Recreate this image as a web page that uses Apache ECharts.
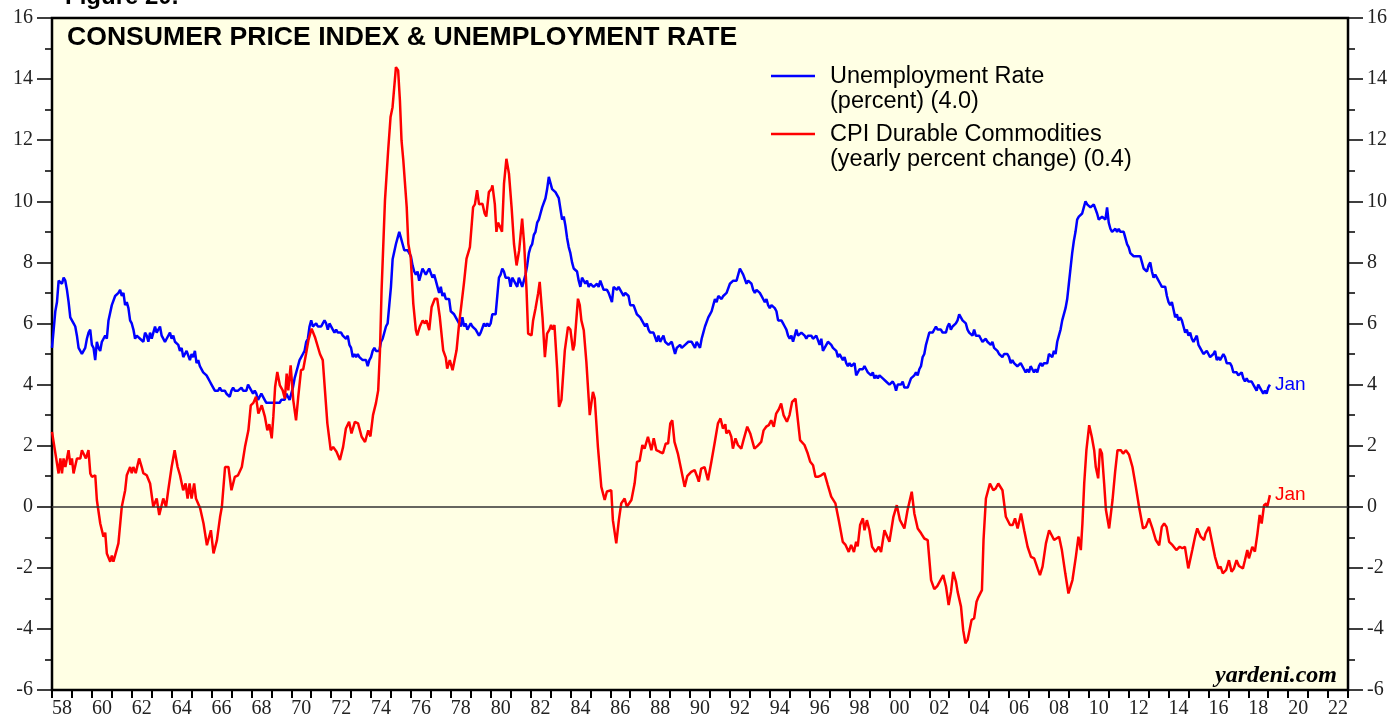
<!DOCTYPE html>
<html>
<head>
<meta charset="utf-8">
<script src="https://cdn.jsdelivr.net/npm/echarts@6/dist/echarts.min.js"></script>
<style>
html,body{margin:0;padding:0;background:#ffffff;}
#chart{width:1394px;height:719px;}
</style>
</head>
<body>
<div id="chart"></div>
<script>
// Unemployment rate, monthly, first value = Dec 1957, each value plotted at end of its month
const unemploymentStart = 1958.0;
const unemployment = [
  5.2,
  5.8,6.4,6.7,7.4,7.4,7.3,7.5,7.4,7.1,6.7,6.2,6.2,
  6.0,5.9,5.6,5.2,5.1,5.0,5.1,5.2,5.5,5.7,5.8,5.3,
  5.2,4.8,5.4,5.2,5.1,5.4,5.5,5.6,5.5,6.1,6.1,6.6,
  6.6,6.9,6.9,7.0,7.1,6.9,7.0,6.6,6.7,6.5,6.1,6.0,
  5.8,5.5,5.6,5.6,5.5,5.5,5.4,5.7,5.6,5.4,5.7,5.5,
  5.7,5.9,5.7,5.7,5.9,5.6,5.6,5.4,5.5,5.5,5.7,5.5,
  5.6,5.4,5.4,5.3,5.1,5.2,4.9,5.0,5.1,5.1,4.8,5.0,
  4.9,5.1,4.7,4.8,4.6,4.6,4.4,4.4,4.3,4.2,4.1,4.0,
  4.0,3.8,3.8,3.8,3.9,3.8,3.8,3.8,3.7,3.7,3.6,3.8,
  3.9,3.8,3.8,3.8,3.8,3.9,3.8,3.8,3.8,4.0,3.9,3.8,
  3.7,3.8,3.7,3.5,3.5,3.7,3.7,3.5,3.4,3.4,3.4,3.4,
  3.4,3.4,3.4,3.4,3.4,3.5,3.5,3.5,3.7,3.7,3.5,3.5,
  3.9,4.2,4.4,4.6,4.8,4.9,5.0,5.1,5.4,5.5,5.9,6.1,
  5.9,5.9,6.0,5.9,5.9,5.9,6.0,6.1,6.0,5.8,6.0,6.0,
  5.8,5.7,5.8,5.7,5.7,5.7,5.6,5.6,5.5,5.6,5.3,5.2,
  4.9,5.0,4.9,5.0,4.9,4.9,4.8,4.8,4.8,4.6,4.8,4.9,
  5.1,5.2,5.1,5.1,5.1,5.4,5.5,5.5,5.9,6.0,6.6,7.2,
  8.1,8.1,8.6,8.8,9.0,8.8,8.6,8.4,8.4,8.4,8.3,8.2,
  7.9,7.7,7.6,7.7,7.4,7.6,7.8,7.8,7.6,7.7,7.8,7.8,
  7.5,7.6,7.4,7.2,7.0,7.2,6.9,7.0,6.8,6.8,6.8,6.4,
  6.4,6.3,6.3,6.1,6.0,5.9,6.2,5.9,6.0,5.8,5.9,6.0,
  5.9,5.9,5.8,5.8,5.6,5.7,5.7,6.0,5.9,6.0,5.9,6.0,
  6.3,6.3,6.3,6.9,7.5,7.6,7.8,7.7,7.5,7.5,7.5,7.2,
  7.5,7.4,7.4,7.2,7.5,7.5,7.2,7.4,7.6,7.9,8.3,8.5,
  8.6,8.9,9.0,9.3,9.4,9.6,9.8,9.8,10.1,10.4,10.8,10.8,
  10.4,10.4,10.3,10.2,10.1,10.1,9.4,9.5,9.2,8.8,8.5,8.3,
  8.0,7.8,7.8,7.7,7.4,7.2,7.5,7.5,7.3,7.4,7.2,7.3,
  7.3,7.2,7.2,7.3,7.2,7.4,7.4,7.1,7.1,7.1,7.0,7.0,
  6.7,7.2,7.2,7.1,7.2,7.2,7.0,6.9,7.0,7.0,6.9,6.6,
  6.6,6.6,6.6,6.3,6.3,6.2,6.1,6.0,5.9,6.0,5.8,5.7,
  5.7,5.7,5.7,5.4,5.6,5.4,5.4,5.6,5.4,5.4,5.3,5.3,
  5.4,5.2,5.0,5.2,5.2,5.3,5.2,5.2,5.3,5.3,5.4,5.4,
  5.4,5.3,5.2,5.4,5.4,5.2,5.5,5.7,5.9,5.9,6.2,6.3,
  6.4,6.6,6.8,6.7,6.9,6.9,6.8,6.9,6.9,7.0,7.0,7.3,
  7.3,7.4,7.4,7.4,7.6,7.8,7.7,7.6,7.6,7.3,7.4,7.4,
  7.3,7.1,7.0,7.1,7.1,7.0,6.9,6.8,6.7,6.8,6.6,6.5,
  6.6,6.6,6.5,6.4,6.1,6.1,6.1,6.0,5.9,5.8,5.6,5.5,
  5.6,5.4,5.4,5.8,5.6,5.6,5.7,5.7,5.6,5.5,5.6,5.6,
  5.6,5.5,5.5,5.6,5.6,5.3,5.5,5.1,5.2,5.2,5.4,5.4,
  5.3,5.2,5.2,5.1,4.9,5.0,4.9,4.8,4.9,4.7,4.6,4.7,
  4.6,4.6,4.7,4.3,4.4,4.5,4.5,4.5,4.6,4.5,4.4,4.4,
  4.3,4.4,4.2,4.3,4.2,4.3,4.3,4.2,4.2,4.1,4.1,4.0,
  4.0,4.1,4.0,3.8,4.0,4.0,4.0,4.1,3.9,3.9,3.9,3.9,
  4.2,4.2,4.3,4.4,4.3,4.5,4.6,4.9,5.0,5.3,5.5,5.7,
  5.7,5.7,5.7,5.9,5.8,5.8,5.8,5.7,5.7,5.7,5.9,6.0,
  5.8,5.9,5.9,6.0,6.1,6.3,6.2,6.1,6.1,6.0,5.8,5.7,
  5.7,5.6,5.8,5.6,5.6,5.6,5.5,5.4,5.4,5.5,5.4,5.4,
  5.3,5.4,5.2,5.2,5.1,5.0,5.0,4.9,5.0,5.0,5.0,4.9,
  4.7,4.8,4.7,4.7,4.6,4.6,4.7,4.7,4.5,4.4,4.5,4.4,
  4.6,4.5,4.4,4.5,4.4,4.6,4.7,4.6,4.7,4.7,4.7,5.0,
  5.0,4.9,5.1,5.0,5.4,5.6,5.8,6.1,6.1,6.5,6.8,7.3,
  7.8,8.3,8.7,9.0,9.4,9.5,9.5,9.6,9.8,10.0,9.9,9.9,
  9.8,9.8,9.9,9.9,9.6,9.4,9.4,9.5,9.5,9.4,9.8,9.3,
  9.1,9.0,9.0,9.1,9.0,9.1,9.0,9.0,9.0,8.8,8.6,8.5,
  8.3,8.3,8.2,8.2,8.2,8.2,8.2,8.0,7.8,7.8,7.7,7.9,
  8.0,7.7,7.5,7.6,7.5,7.5,7.3,7.2,7.2,7.2,6.9,6.7,
  6.6,6.7,6.7,6.2,6.3,6.1,6.2,6.1,5.9,5.7,5.8,5.6,
  5.7,5.5,5.4,5.4,5.6,5.3,5.2,5.1,5.0,5.0,5.1,5.0,
  4.9,4.9,5.0,5.1,4.8,4.9,4.8,4.9,5.0,4.9,4.7,4.7,
  4.7,4.6,4.4,4.4,4.4,4.3,4.3,4.4,4.2,4.1,4.2,4.1,
  4.1,4.1,4.0,4.0,3.8,4.0,3.9,3.8,3.7,3.8,3.7,3.9,
  4.0
];

// CPI durable commodities, yearly percent change
const cpiDates = [
  1958.0,1958.33,1958.42,1958.5,1958.58,1958.67,1958.83,1958.92,1959.0,1959.08,1959.17,1959.25,1959.42,1959.5,1959.6,1959.7,1959.83,1959.92,
  1960.0,1960.17,1960.25,1960.42,1960.58,1960.67,1960.75,1960.92,1961.0,1961.08,1961.33,1961.5,1961.67,1961.75,1961.92,
  1962.0,1962.08,1962.2,1962.37,1962.5,1962.58,1962.75,1962.92,1963.08,1963.25,1963.38,1963.58,1963.72,1963.83,
  1964.0,1964.15,1964.3,1964.42,1964.58,1964.7,1964.8,1964.9,1965.0,1965.13,1965.22,1965.43,1965.6,1965.77,1965.97,
  1966.1,1966.27,1966.43,1966.52,1966.68,1966.85,1967.0,1967.17,1967.33,1967.52,1967.68,1967.85,1967.97,
  1968.1,1968.23,1968.35,1968.52,1968.68,1968.8,1968.9,1969.02,1969.1,1969.19,1969.3,1969.43,1969.57,1969.68,1969.77,1969.85,1969.97,
  1970.1,1970.24,1970.35,1970.49,1970.6,1970.74,1970.86,1971.02,1971.19,1971.44,1971.58,1971.69,1971.81,1971.98,
  1972.1,1972.27,1972.44,1972.6,1972.74,1972.9,1973.02,1973.19,1973.35,1973.53,1973.7,1973.86,1973.97,
  1974.1,1974.25,1974.36,1974.45,1974.53,1974.7,1974.86,1974.98,1975.08,1975.25,1975.36,1975.45,1975.53,1975.62,1975.79,1975.87,1975.99,
  1976.12,1976.25,1976.32,1976.45,1976.59,1976.7,1976.78,1976.92,1977.04,1977.2,1977.32,1977.45,1977.62,1977.75,1977.82,1977.95,
  1978.09,1978.29,1978.42,1978.54,1978.66,1978.79,1978.96,1979.12,1979.21,1979.32,1979.42,1979.59,1979.7,1979.78,1979.91,
  1980.04,1980.09,1980.21,1980.29,1980.37,1980.45,1980.57,1980.67,1980.79,1980.92,1981.05,1981.17,1981.3,1981.43,1981.58,1981.68,1981.8,1981.88,
  1982.05,1982.13,1982.25,1982.38,1982.46,1982.6,1982.72,1982.83,1982.95,1983.03,1983.11,1983.2,1983.34,1983.43,1983.55,1983.72,1983.88,
  1984.0,1984.13,1984.2,1984.38,1984.47,1984.55,1984.67,1984.8,1984.97,1985.05,1985.13,1985.22,1985.38,1985.55,1985.72,1985.83,
  1986.05,1986.13,1986.3,1986.43,1986.55,1986.72,1986.83,1987.06,1987.22,1987.34,1987.47,1987.61,1987.72,1987.89,
  1988.06,1988.18,1988.31,1988.47,1988.64,1988.78,1988.9,1989.01,1989.11,1989.22,1989.39,1989.56,1989.73,1989.86,
  1990.06,1990.23,1990.35,1990.44,1990.56,1990.73,1990.9,1991.07,1991.23,1991.4,1991.53,1991.65,1991.77,1991.82,1991.95,
  1992.07,1992.15,1992.28,1992.4,1992.57,1992.68,1992.87,1993.02,1993.23,1993.4,1993.57,1993.69,1993.82,1993.95,
  1994.07,1994.2,1994.32,1994.46,1994.57,1994.69,1994.86,1994.99,1995.12,1995.29,1995.41,1995.52,1995.74,1995.9,
  1996.03,1996.17,1996.29,1996.41,1996.58,1996.74,1996.91,1997.08,1997.29,1997.46,1997.66,1997.8,1997.96,
  1998.08,1998.22,1998.33,1998.41,1998.53,1998.67,1998.75,1998.87,1999.0,1999.13,1999.3,1999.47,1999.58,1999.75,1999.83,
  2000.0,2000.2,2000.37,2000.53,2000.75,2000.91,2001.12,2001.25,2001.42,2001.59,2001.75,2001.92,
  2002.09,2002.25,2002.4,2002.5,2002.7,2002.84,2002.97,2003.09,2003.2,2003.34,2003.42,2003.59,2003.7,2003.81,2003.92,
  2004.12,2004.25,2004.37,2004.47,2004.64,2004.72,2004.84,2005.04,2005.21,2005.33,2005.46,2005.67,2005.84,
  2006.05,2006.18,2006.3,2006.43,2006.6,2006.76,2006.93,2007.1,2007.26,2007.43,2007.55,2007.68,2007.85,
  2008.01,2008.26,2008.51,2008.65,2008.82,2008.98,2009.18,2009.35,2009.48,2009.6,2009.68,2009.77,2009.88,
  2010.02,2010.15,2010.27,2010.35,2010.47,2010.56,2010.66,2010.77,2010.86,2011.02,2011.19,2011.32,2011.44,2011.61,2011.72,2011.86,
  2012.02,2012.19,2012.36,2012.52,2012.72,2012.86,2013.02,2013.19,2013.36,2013.53,2013.66,2013.78,2013.9,
  2014.03,2014.2,2014.39,2014.56,2014.69,2014.82,2014.99,2015.06,2015.19,2015.33,2015.44,2015.61,2015.69,2015.78,2015.86,
  2016.03,2016.16,2016.33,2016.5,2016.61,2016.72,2016.82,2016.89,2017.03,2017.16,2017.28,2017.41,2017.53,2017.73,2017.83,2017.95,
  2018.03,2018.2,2018.33,2018.46,2018.57,2018.67,2018.79,2018.9,2018.95,2019.083
];
const cpiValues = [
  2.45,1.09,1.58,1.09,1.58,1.3,1.85,1.37,1.58,1.09,1.04,1.58,1.58,1.85,1.85,1.58,1.85,1.09,
  0.98,1.03,0.22,-0.55,-0.98,-0.85,-1.53,-1.8,-1.6,-1.8,-1.2,0.0,0.54,1.03,1.3,
  1.1,1.3,1.1,1.58,1.3,1.1,1.03,0.76,0.0,0.27,-0.27,0.27,0.0,0.54,
  1.3,1.85,1.3,1.03,0.54,0.76,0.27,0.76,0.27,0.76,0.27,-0.05,-0.55,-1.26,-0.77,
  -1.53,-1.1,-0.33,0.0,1.3,1.3,0.54,0.98,1.03,1.3,1.96,2.5,3.32,
  3.4,3.6,3.05,3.32,2.94,2.5,2.7,2.24,2.94,3.92,4.41,3.97,3.81,3.54,4.36,3.81,4.63,
  3.49,2.83,3.6,4.47,4.5,5.0,5.45,5.83,5.55,5.0,4.8,3.81,2.73,1.85,
  1.96,1.8,1.53,1.96,2.56,2.78,2.4,2.78,2.73,2.29,2.12,2.5,2.3,
  3.0,3.4,3.81,5.12,7.09,10.03,11.67,12.76,13.08,14.39,14.28,13.3,11.99,11.34,9.81,8.61,8.17,
  6.65,5.78,5.61,5.9,6.1,6.0,6.1,5.78,6.54,6.81,6.81,6.21,5.12,4.88,4.52,4.8,
  4.47,5.12,6.0,6.65,7.31,8.12,8.5,9.81,9.9,10.36,9.9,9.92,9.6,9.5,10.3,
  10.4,10.52,9.9,9.0,9.3,9.2,9.0,10.58,11.39,10.9,9.81,8.61,7.9,8.39,9.43,8.61,7.09,5.67,
  5.61,6.1,6.49,6.98,7.36,6.21,4.9,5.67,5.8,5.95,5.8,5.95,4.47,3.27,3.5,5.12,5.89,
  5.8,5.12,5.3,6.81,6.6,6.1,5.78,4.75,3.0,3.0,3.76,3.55,1.96,0.65,0.22,0.5,
  0.54,-0.44,-1.2,-0.44,0.11,0.27,0.0,0.22,0.76,1.47,1.5,2.02,1.9,2.29,
  1.85,2.24,1.85,1.8,1.75,2.07,2.07,2.73,2.83,2.12,1.74,1.2,0.65,1.0,
  1.14,1.2,1.0,0.82,1.25,1.3,0.87,1.47,2.07,2.73,2.89,2.56,2.7,2.4,2.5,
  2.29,1.9,2.24,2.02,1.9,2.18,2.62,2.4,1.9,2.0,2.12,2.5,2.62,2.67,
  2.83,2.62,3.05,3.2,3.38,3.0,2.78,3.0,3.43,3.54,2.83,2.18,2.02,1.75,
  1.47,1.36,0.98,0.98,1.03,1.1,0.71,0.33,0.11,-0.44,-1.15,-1.25,-1.48,
  -1.25,-1.48,-1.15,-1.3,-0.6,-0.38,-0.77,-0.44,-0.77,-1.31,-1.48,-1.31,-1.48,-0.77,-0.82,
  -1.15,-0.33,0.05,-0.44,-0.71,-0.11,0.49,-0.22,-0.71,-0.87,-1.04,-1.09,
  -2.4,-2.7,-2.6,-2.56,-2.24,-2.62,-3.22,-2.78,-2.13,-2.46,-2.78,-3.27,-4.04,-4.47,-4.36,
  -3.71,-3.65,-3.11,-2.95,-2.73,-1.09,0.27,0.76,0.54,0.6,0.76,0.54,-0.33,
  -0.6,-0.6,-0.38,-0.71,-0.22,-0.77,-1.31,-1.64,-1.69,-2.02,-2.24,-1.96,-1.2,
  -0.77,-1.09,-0.98,-1.42,-2.18,-2.84,-2.4,-1.64,-0.98,-1.42,-0.55,0.76,1.85,
  2.67,2.29,1.85,1.3,0.93,1.9,1.74,0.76,-0.11,-0.71,0.22,1.14,1.85,1.85,1.74,1.85,
  1.7,1.3,0.65,0.0,-0.71,-0.66,-0.38,-0.71,-1.09,-1.26,-0.66,-0.55,-0.66,
  -1.15,-1.26,-1.42,-1.31,-1.36,-1.31,-2.02,-2.07,-1.42,-0.98,-0.71,-0.98,-0.93,-1.09,-0.87,
  -0.66,-1.09,-1.64,-2.02,-1.96,-2.18,-2.18,-2.07,-1.75,-2.13,-2.02,-1.75,-1.94,-2.02,-1.75,-1.42,
  -1.69,-1.31,-1.47,-0.87,-0.27,-0.55,0.05,0.11,0.0,0.38
];

const seriesNames = ['Unemployment Rate', 'CPI Durable Commodities'];
const legendLines = [
  ['Unemployment Rate', '(percent) (4.0)'],
  ['CPI Durable Commodities', '(yearly percent change) (0.4)']
];
const lastLabel = 'Jan';
const titleText = 'CONSUMER PRICE INDEX & UNEMPLOYMENT RATE';

const urData = unemployment.map((v, i) => [unemploymentStart + i / 12, v]);
const cpiData = cpiDates.map((d, i) => [d, cpiValues[i]]);

const SERIF = '"Liberation Serif", "Times New Roman", serif';
const SANS = '"Liberation Sans", Arial, sans-serif';
const BLUE = '#0000FF';
const RED = '#FF0000';

const chart = echarts.init(document.getElementById('chart'), null, {renderer: 'canvas'});

const yAxisBase = {
  type: 'value', min: -6, max: 16, interval: 2,
  axisLine: {show: false},
  axisTick: {show: true, length: 15, lineStyle: {color: '#000', width: 1.5}},
  minorTick: {show: true, splitNumber: 2, length: 7, lineStyle: {color: '#000', width: 1.5}},
  splitLine: {show: false},
  minorSplitLine: {show: false},
  axisLabel: {fontFamily: SERIF, fontSize: 20, color: '#222', margin: 19}
};

chart.setOption({
  animation: false,
  backgroundColor: '#ffffff',
  grid: {
    left: 52, right: 46, top: 18, bottom: 29,
    show: true, backgroundColor: '#FFFFE4', borderColor: '#000', borderWidth: 2.5,
    outerBoundsMode: 'none', containLabel: false
  },
  xAxis: {
    type: 'value', min: 1958, max: 2023, interval: 1,
    axisLine: {show: false, onZero: false},
    axisTick: {show: true, length: 8, lineStyle: {color: '#000', width: 2}},
    splitLine: {show: false},
    axisLabel: {
      margin: 9,
      formatter: function (v) {
        const y = Math.round(v);
        if (y % 2 !== 0 || y >= 2023) return '';
        return '{a|' + String(y % 100).padStart(2, '0') + '}';
      },
      rich: {a: {fontFamily: SERIF, fontSize: 20, color: '#222', padding: [0, 0, 0, 20]}}
    }
  },
  yAxis: [
    Object.assign({}, yAxisBase, {position: 'left'}),
    Object.assign({}, yAxisBase, {position: 'right'})
  ],
  series: [
    {
      name: seriesNames[0], type: 'line', data: urData, yAxisIndex: 0,
      symbol: 'none', showSymbol: false, z: 3,
      lineStyle: {color: BLUE, width: 2.5},
      itemStyle: {color: BLUE},
      endLabel: {show: true, formatter: lastLabel, color: BLUE, fontFamily: SANS, fontSize: 19, distance: 5},
      markLine: {
        silent: true, symbol: ['none', 'none'], label: {show: false},
        lineStyle: {color: '#333', width: 1.5, type: 'solid'},
        data: [{yAxis: 0}]
      }
    },
    {
      name: seriesNames[1], type: 'line', data: cpiData, yAxisIndex: 0,
      symbol: 'none', showSymbol: false, z: 4,
      lineStyle: {color: RED, width: 2.5},
      itemStyle: {color: RED},
      endLabel: {show: true, formatter: lastLabel, color: RED, fontFamily: SANS, fontSize: 19, distance: 5}
    }
  ],
  graphic: [
    {type: 'text', x: 65, y: -3, style: {text: 'Figure 20.', font: 'bold 24px ' + SANS, fill: '#000', verticalAlign: 'middle'}},
    {type: 'text', x: 67, y: 38, style: {text: titleText, font: 'bold 26.6px ' + SANS, fill: '#000', verticalAlign: 'middle'}},
    {type: 'line', shape: {x1: 771, y1: 76, x2: 815, y2: 76}, style: {stroke: BLUE, lineWidth: 2.5}},
    {type: 'text', x: 830, y: 77, style: {text: legendLines[0][0], font: '23.5px ' + SANS, fill: '#000', verticalAlign: 'middle'}},
    {type: 'text', x: 830, y: 102, style: {text: legendLines[0][1], font: '23.5px ' + SANS, fill: '#000', verticalAlign: 'middle'}},
    {type: 'line', shape: {x1: 771, y1: 134, x2: 815, y2: 134}, style: {stroke: RED, lineWidth: 2.5}},
    {type: 'text', x: 830, y: 135, style: {text: legendLines[1][0], font: '23.5px ' + SANS, fill: '#000', verticalAlign: 'middle'}},
    {type: 'text', x: 830, y: 160, style: {text: legendLines[1][1], font: '23.5px ' + SANS, fill: '#000', verticalAlign: 'middle'}},
    {type: 'text', x: 1337, y: 676, style: {text: 'yardeni.com', font: 'italic bold 24px ' + SERIF, fill: '#000', align: 'right', verticalAlign: 'middle'}}
  ]
});
</script>
</body>
</html>
